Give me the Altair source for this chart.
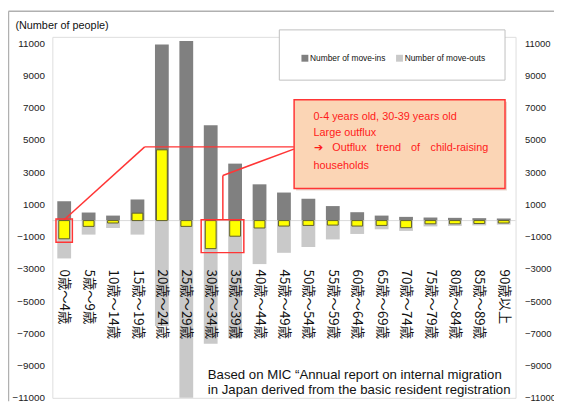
import altair as alt
import pandas as pd

categories = ["0歳～4歳", "5歳～9歳", "10歳～14歳", "15歳～19歳", "20歳～24歳",
              "25歳～29歳", "30歳～34歳", "35歳～39歳", "40歳～44歳", "45歳～49歳",
              "50歳～54歳", "55歳～59歳", "60歳～64歳", "65歳～69歳", "70歳～74歳",
              "75歳～79歳", "80歳～84歳", "85歳～89歳", "90歳以上"]
move_ins = [1200, 500, 310, 1310, 10920, 11140, 5920, 3535, 2250, 1740,
            1350, 900, 520, 310, 230, 190, 170, 150, 130]
move_outs = [-2350, -870, -460, -870, -6540, -11000, -7640, -7300, -2700, -2000,
             -1640, -1170, -830, -540, -640, -360, -330, -300, -250]
net_change = [-1130, -360, -150, 460, 4390, -360, -1740, -970, -460, -340,
              -300, -280, -340, -300, -440, -200, -200, -180, -150]
series_names = ["Number of move-ins", "Number of move-outs"]
series_colors = ["#808080", "#c9c9c9"]
y_ticks = [-11000, -9000, -7000, -5000, -3000, -1000, 1000, 3000, 5000, 7000, 9000, 11000]

long_df = pd.DataFrame({
    "age": categories * 2,
    "series": [series_names[0]] * len(categories) + [series_names[1]] * len(categories),
    "value": move_ins + move_outs,
})
net_df = pd.DataFrame({"age": categories, "net": net_change})
one = pd.DataFrame({"a": [0]})

SANS = "Liberation Sans, Arial, sans-serif"
RED = "#ff3535"
TXT_RED = "#ff1a1a"

# plot area origin on the page: (53, 34.4)
OX, OY = 53.0, 34.4
W, H = 470, 366.25
SVG_W, SVG_H = 554, 396


def px(x):
    return x - OX


def py(y):
    return y - OY


x_scale = alt.Scale(domain=categories, paddingInner=0.45, paddingOuter=0.21)
y_scale = alt.Scale(domain=[-11000, 11400], nice=False, zero=False)

zero_rule = alt.Chart(pd.DataFrame({"z": [0]})).mark_rule(color="#d9d9d9", strokeWidth=1).encode(
    y=alt.Y("z:Q", scale=y_scale, axis=None)
)

bars = alt.Chart(long_df).mark_bar(size=14).encode(
    x=alt.X("age:N", scale=x_scale, sort=categories, title=None,
            axis=alt.Axis(orient="bottom", offset=-(H - py(270)), domain=False, ticks=False,
                          labelAngle=90, labelPadding=0, labelFont="Noto Sans CJK JP",
                          labelFontSize=13.5, labelColor="#111", labelOverlap=False,
                          labelBound=False, labelFlush=False, zindex=2)),
    y=alt.Y("value:Q", scale=y_scale, stack=None,
            axis=alt.Axis(orient="left", values=y_ticks, format="d", domain=False, ticks=False,
                          grid=False, labelPadding=8, labelFont=SANS, labelFontSize=10,
                          labelColor="#222", title="(Number of people)", titleAngle=0,
                          titleAlign="left", titleBaseline="middle", titleX=15 - OX,
                          titleY=py(23.3), titleFont=SANS, titleFontSize=11,
                          titleFontWeight="normal", titleColor="#111")),
    color=alt.Color("series:N", scale=alt.Scale(domain=series_names, range=series_colors),
                    legend=alt.Legend(orient="none", legendX=px(305), legendY=py(56.7) - 5,
                                      direction="horizontal", title=None, symbolType="square",
                                      symbolSize=49, symbolStrokeWidth=0, labelFont=SANS,
                                      labelFontSize=8.5, labelColor="#111", labelOffset=1,
                                      columnPadding=9, padding=0)),
)

net_bars = alt.Chart(net_df).mark_bar(size=11, color="#ffff00", stroke="#5f5f2a", strokeWidth=1).encode(
    x=alt.X("age:N", scale=x_scale, sort=categories),
    y=alt.Y("net:Q", scale=y_scale,
            axis=alt.Axis(orient="right", values=y_ticks, format="d", domain=False, ticks=False,
                          grid=False, labelPadding=9, labelFont=SANS, labelFontSize=9.6,
                          labelColor="#222", title=None)),
)


def rect(x1, y1, x2, y2, **kw):
    return alt.Chart(one).mark_rect(**kw).encode(
        x=alt.value(px(x1)), x2=alt.value(px(x2)), y=alt.value(py(y1)), y2=alt.value(py(y2)))


def seg(x1, y1, x2, y2, color=RED, width=1.5):
    return alt.Chart(one).mark_rule(color=color, strokeWidth=width).encode(
        x=alt.value(px(x1)), x2=alt.value(px(x2)), y=alt.value(py(y1)), y2=alt.value(py(y2)))


def txt(x, y, s, size=11, font=SANS, color=TXT_RED, baseline="middle"):
    return alt.Chart(one).mark_text(text=s, align="left", baseline=baseline, font=font,
                                    fontSize=size, color=color).encode(
        x=alt.value(px(x)), y=alt.value(py(y)))


annot = [
    # outer frame
    seg(8.5, 8.5, 8.5, 404, color="#b0b0b0", width=1.5),
    seg(8.5, 8.5, 562, 8.5, color="#b0b0b0", width=1.5),
    # red highlight boxes
    rect(56.7, 219.3, 73.3, 242.7, fill=None, fillOpacity=0, stroke=RED, strokeWidth=1.5),
    rect(204, 220, 247.3, 253.3, fill=None, fillOpacity=0, stroke=RED, strokeWidth=1.5),
    # connectors
    seg(65, 220, 146.7, 146),
    seg(146.7, 146, 298, 146),
    seg(226, 220, 226, 175),
    seg(226, 175, 298, 148.3),
    # legend box
    rect(283.3, 27.3, 512.3, 78.3, color="white", stroke="#bfbfbf", strokeWidth=1),
    # callout box
    rect(300.3, 100.3, 514.3, 190.3, color="#d8c0b0", opacity=0.6),
    rect(298.3, 98.3, 512.3, 188.3, color="#fbd5b5", stroke=RED, strokeWidth=1.5),
    txt(318, 116, "0-4 years old, 30-39 years old"),
    txt(318, 131.7, "Large outflux"),
    txt(318.3, 147.3, "➔"),
    txt(337, 147.3, "Outflux"),
    txt(381.7, 147.3, "trend"),
    txt(417, 147.3, "of"),
    txt(436.7, 147.3, "child-raising"),
    txt(318, 165.7, "households"),
    # source note
    txt(210.7, 381.7, "Based on MIC \u201cAnnual report on internal migration", size=13.4,
        color="#111", baseline="alphabetic"),
    txt(210.7, 396.7, "in Japan derived from the basic resident registration", size=13.4,
        color="#111", baseline="alphabetic"),
]

chart = alt.layer(zero_rule, bars, net_bars, *annot).resolve_axis(y="independent").properties(
    width=W, height=H, autosize="none",
    padding={"left": OX - 8, "top": OY - 8, "right": SVG_W - (OX - 8) - W,
             "bottom": SVG_H - (OY - 8) - H},
).configure_view(stroke=None).configure(background="white")

chart.save("out.html", embed_options={"renderer": "svg", "actions": False})
